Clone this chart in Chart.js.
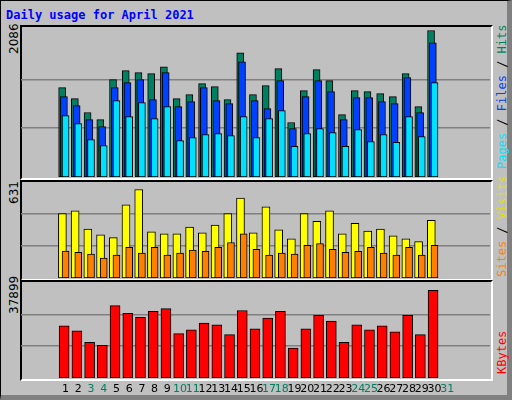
<!DOCTYPE html>
<html>
<head>
<meta charset="utf-8">
<script src="https://cdn.jsdelivr.net/npm/chart.js"></script>
<style>
  body { margin: 0; }
  #frame { position: absolute; left: 0; top: 0; width: 506px; height: 394px; background: #c0c0c0;
           border-left: 1px solid #000; border-top: 1px solid #000; border-right: 5px solid #808080; border-bottom: 5px solid #808080; }
  .title { position: absolute; left: 5px; top: 7px; font: bold 12px "DejaVu Sans Mono", monospace; color: #0000ff; }
  .box { position: absolute; border-top: 2px solid #000; border-left: 2px solid #000; border-right: 2px solid #fff; border-bottom: 2px solid #fff; }
  canvas { position: absolute; }
  .rot { position: absolute; transform-origin: left top; transform: rotate(-90deg); white-space: nowrap; }
  .max { font: 12px "DejaVu Sans", sans-serif; color: #000; }
  .side { font: 12px "DejaVu Sans Mono", monospace; }
</style>
</head>
<body>
<div id="frame">
  <div class="title">Daily usage for April 2021</div>
  <div class="box" style="left:19px;top:24px;width:469px;height:151px"></div>
  <div class="box" style="left:19px;top:179px;width:469px;height:97px"></div>
  <div class="box" style="left:19px;top:279px;width:469px;height:97px"></div>
  <div class="rot max" style="left:6px;top:53px">2086</div>
  <div class="rot max" style="left:6px;top:203px">631</div>
  <div class="rot max" style="left:6px;top:313px">37899</div>
  <div class="rot side" style="left:494px;top:168px"><span style="color:#00e0ff">Pages</span> / <span style="color:#0040ff">Files</span> / <span style="color:#008060">Hits</span></div>
  <div class="rot side" style="left:494px;top:276px"><span style="color:#ff8000">Sites</span> / <span style="color:#e0e000">Visits</span></div>
  <div class="rot side" style="left:494px;top:373px"><span style="color:#ff0000">KBytes</span></div>
</div>
<canvas id="c1" style="left:21px;top:26px" width="469" height="151"></canvas>
<canvas id="c2" style="left:21px;top:181px" width="469" height="97"></canvas>
<canvas id="c3" style="left:21px;top:281px" width="469" height="117"></canvas>
<script>
const days = Array.from({length: 31}, (_, i) => i + 1);
const weekendDays = [3, 4, 10, 11, 17, 18, 24, 25, 31];

const hits  = [1272,1116,918,818,1386,1514,1485,1471,1570,1116,1173,1329,1287,1102,1769,1173,1301,1542,776,1230,1528,1372,889,1230,1216,1187,1145,1471,1003,2086];
const files = [1145,1017,818,719,1272,1343,1386,1102,1485,1003,1074,1272,1088,1045,1641,1088,974,1372,691,1145,1372,1216,818,1130,1130,1074,1045,1414,918,1911];
const pages = [875,762,534,449,1088,861,1060,832,1003,520,563,605,620,591,861,563,832,946,435,620,691,634,435,676,506,605,492,861,577,1343];
const visits = [425,444,323,285,266,482,584,304,291,291,336,298,349,425,527,298,470,317,259,425,374,444,291,361,310,323,278,259,240,380];
const sites  = [178,170,157,132,151,202,164,202,151,164,185,176,202,234,291,189,151,164,157,215,227,189,170,176,202,164,151,202,151,215];
const kbytes = [20671,18757,14164,13015,28710,25648,24116,26413,27562,17609,19140,21820,21054,17226,26796,19523,23734,26413,11867,19523,24882,22585,14164,21054,19140,20671,18374,24882,17226,34835];

const pts = (vals, off) => vals.map((v, i) => ({x: days[i] + off, y: v}));
const bar = (vals, off, color, w) => ({
  data: pts(vals, off), backgroundColor: color, borderColor: '#000', borderWidth: 1,
  barThickness: w, borderSkipped: false, grouped: false
});

function makeChart(id, datasets, max, grid, labels) {
  new Chart(document.getElementById(id), {
    type: 'bar',
    data: { datasets },
    options: {
      responsive: false, animation: false,
      layout: { padding: { bottom: labels ? 20 : 0 } },
      plugins: { legend: { display: false }, tooltip: { enabled: false } },
      scales: {
        x: { type: 'linear', min: 0.13, max: 31.73, display: false },
        y: {
          min: 0, max, ticks: { display: false }, border: { display: false },
          grid: { color: '#808080', lineWidth: 1.5, drawTicks: false },
          afterBuildTicks: s => { s.ticks = grid.map(v => ({value: v})); },
          afterFit: s => { s.width = 0; }
        }
      }
    },
    plugins: labels ? [{
      id: 'dayLabels',
      afterDraw(chart) {
        const ctx = chart.ctx, xs = chart.scales.x;
        ctx.save();
        ctx.font = '11px "DejaVu Sans", sans-serif';
        ctx.textAlign = 'center';
        ctx.textBaseline = 'middle';
        days.forEach(d => {
          ctx.fillStyle = weekendDays.includes(d) ? '#008060' : '#000';
          ctx.fillText(String(d), xs.getPixelForValue(d), chart.chartArea.bottom + 11);
        });
        ctx.restore();
      }
    }] : []
  });
}

// dataset 0 is painted last, so the front bar goes first
makeChart('c1', [
  bar(pages, 0, '#00e0ff', 7),
  bar(files, -0.13, '#0040ff', 7),
  bar(hits, -0.27, '#008060', 7)
], 2150, [695, 1390]);

makeChart('c2', [
  bar(sites, 0, '#ff8000', 7),
  bar(visits, -0.25, '#ffff00', 8)
], 640, [210, 421]);

makeChart('c3', [
  bar(kbytes, -0.11, '#ff0000', 10)
], 38500, [12633, 25266], true);
</script>
</body>
</html>
